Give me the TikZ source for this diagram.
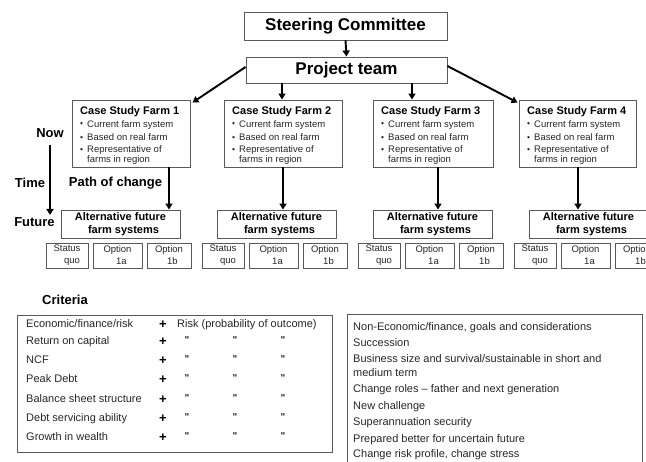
\documentclass[tikz,border=0pt]{standalone}
\usepackage{fontspec}
\setmainfont{Liberation Sans}
\usetikzlibrary{arrows.meta}
\begin{document}
\begin{tikzpicture}[x=1pt,y=-1pt,
  box/.style={draw=black!65, line width=0.9pt, inner sep=0pt, align=center},
  arr/.style={draw=black, line width=1.9pt, -{Triangle[width=7pt,length=6pt]}},
  big/.style={font=\fontsize{17}{20}\selectfont\bfseries},
  lab/.style={font=\fontsize{13}{15}\selectfont\bfseries, inner sep=0pt},
  ttl/.style={font=\fontsize{11}{13}\selectfont\bfseries, inner sep=0pt, anchor=base west},
  bul/.style={font=\fontsize{9.5}{11}\selectfont, text=black!85, inner sep=0pt, anchor=base west},
  dot/.style={font=\fontsize{8.5}{8.5}\selectfont, text=black!85, inner sep=0pt, anchor=base west},
  sml/.style={font=\fontsize{9.5}{12}\selectfont, text=black!85},
  alts/.style={font=\fontsize{11}{13}\selectfont\bfseries},
  rowt/.style={font=\fontsize{11}{13}\selectfont, text=black!85, inner sep=0pt, anchor=base west},
  plus/.style={font=\fontsize{13}{13}\selectfont\bfseries, inner sep=0pt, anchor=base},
  ditto/.style={font=\fontsize{10}{13}\selectfont\bfseries, text=black!85, inner sep=0pt, anchor=base},
]
\clip (0,0) rectangle (646,462);
\useasboundingbox (0,0) rectangle (646,462);

% top boxes
\node[box, big, minimum width=203pt, minimum height=28pt] (sc) at (345.5,26) {Steering Committee};
\node[box, big, minimum width=201pt, minimum height=26pt] (pt) at (346.5,70) {Project team};
\draw[arr] (sc.south) -- (pt.north);

% farm boxes
\foreach \n/\l/\r in {1/72/190,2/224/342,3/373/493,4/519/636}{
  \node[box, minimum width={(\r-\l)*1pt}, minimum height=67pt] (f\n) at ({(\l+\r)/2},133.5) {};
  \node[ttl] (f\n t) at ({\l+8},115) {Case Study Farm \n};
  \node[dot] (f\n d1) at ({\l+8},127) {•};
  \node[bul] (f\n a) at ({\l+15},127.5) {Current farm system};
  \node[dot] (f\n d2) at ({\l+8},140.5) {•};
  \node[bul] (f\n b) at ({\l+15},141) {Based on real farm};
  \node[dot] (f\n d3) at ({\l+8},152.5) {•};
  \node[bul] (f\n c) at ({\l+15},153) {Representative of};
  \node[bul] (f\n e) at ({\l+15},163) {farms in region};
}

% arrows project team -> farms
\coordinate (c2) at (282,0);
\coordinate (c3) at (412,0);
\draw[arr] (pt.south -| c2) -- (f2.north -| c2);
\draw[arr] (pt.south -| c3) -- (f3.north -| c3);
\draw[arr] ([yshift=3pt]pt.west) -- ([xshift=2pt,yshift=-3pt]f1.north east);
\draw[arr] ([yshift=4pt]pt.east) -- ([xshift=-1pt,yshift=-3pt]f4.north west);

% alternative boxes and options
\foreach \g in {0,1,2,3}{
  \node[box, alts, minimum width=119pt, minimum height=28pt] (alt\g) at ({120.5+156*\g},224) {Alternative future\\\hspace*{6pt}farm systems};
  \node[box, sml, minimum width=42pt, minimum height=25pt] (sq\g) at ({67+156*\g},255.5) {Status\\\hspace*{10pt}quo};
  \node[box, sml, minimum width=49pt, minimum height=25pt] (oa\g) at ({117.5+156*\g},255.5) {Option\\\hspace*{8pt}1a};
  \node[box, sml, minimum width=44pt, minimum height=25pt] (ob\g) at ({169+156*\g},255.5) {Option\\\hspace*{7pt}1b};
}

% farm -> alternatives
\coordinate (d1) at (169,0);
\coordinate (d2) at (283,0);
\coordinate (d3) at (438,0);
\coordinate (d4) at (578,0);
\draw[arr] (f1.south -| d1) -- (alt0.north -| d1);
\draw[arr] (f2.south -| d2) -- (alt1.north -| d2);
\draw[arr] (f3.south -| d3) -- (alt2.north -| d3);
\draw[arr] (f4.south -| d4) -- (alt3.north -| d4);

% time axis
\node[lab] (now) at (50,133) {Now};
\node[lab] (time) at (30,183) {Time};
\node[lab] (path) at (115.5,183) {Path of change};
\node[lab] (future) at (34.5,222) {Future};
\coordinate (tx) at (50,0);
\coordinate (ty1) at (0,145);
\coordinate (ty2) at (0,215);
\draw[arr] (tx |- ty1) -- (tx |- ty2);

% criteria
\node[lab] (crit) at (65,300) {Criteria};
\node[box, minimum width=315pt, minimum height=137pt] (ltab) at (174.5,383.5) {};
\node[box, minimum width=295pt, minimum height=170pt] (rtab) at (494.5,399) {};

\node[rowt] (l1) at (26,328) {Economic/finance/risk};
\node[plus] (p1) at (163,328.5) {+};
\node[rowt] (risk) at (177,328) {Risk (probability of outcome)};
\foreach \i/\y/\t in {2/345/Return on capital,3/364/NCF,4/383/Peak Debt,5/403/Balance sheet structure,6/422/Debt servicing ability,7/441/Growth in wealth}{
  \node[rowt] (l\i) at (26,\y) {\t};
  \node[plus] (p\i) at (163,{\y+0.5}) {+};
  \node[ditto] (da\i) at (187,{\y-1}) {\textquotedbl};
  \node[ditto] (db\i) at (235,{\y-1}) {\textquotedbl};
  \node[ditto] (dc\i) at (283,{\y-1}) {\textquotedbl};
}

\foreach \i/\y/\t in {1/330.7/{Non-Economic/finance, goals and considerations},2/346.3/Succession,3/363/{Business size and survival/sustainable in short and},4/376.3/medium term,5/393/{Change roles – father and next generation},6/409.7/New challenge,7/425.7/Superannuation security,8/442.3/Prepared better for uncertain future,9/457.3/{Change risk profile, change stress}}{
  \node[rowt] (r\i) at (353,\y) {\t};
}
\end{tikzpicture}
\end{document}
